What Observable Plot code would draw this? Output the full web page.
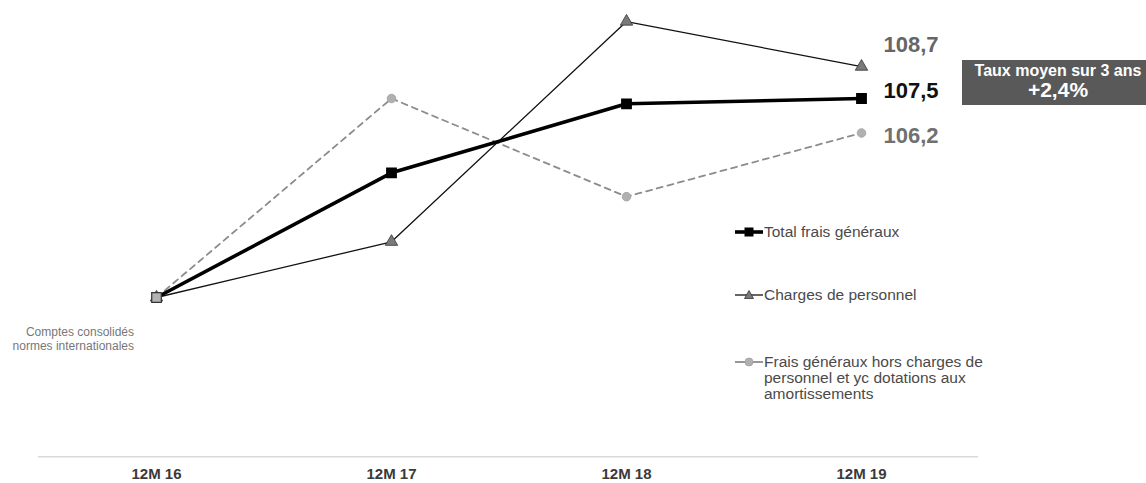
<!DOCTYPE html>
<html>
<head>
<meta charset="utf-8">
<script src="https://cdn.jsdelivr.net/npm/d3@7"></script>
<script src="https://cdn.jsdelivr.net/npm/@observablehq/plot@0.6"></script>
<style>
  html, body { margin: 0; padding: 0; background: #fff; }
  body { font-family: "Liberation Sans", Arial, sans-serif; }
  #wrap { position: relative; width: 1146px; height: 483px; overflow: hidden; }
  #chart { position: absolute; left: 0; top: 0; }
  .legend { position: absolute; left: 735px; font-size: 15.5px; color: #4a4a4a; line-height: 16px; }
  .legend .item { position: absolute; left: 0; white-space: nowrap; }
  .legend svg { position: absolute; left: 0; }
  .legend .txt { position: absolute; left: 29px; }
  #note { position: absolute; right: calc(1146px - 134px); top: 325px; font-size: 12px; color: #777; text-align: right; line-height: 14px; white-space: nowrap; }
  #box { position: absolute; left: 962px; top: 60px; width: 192px; height: 45px; background: #595959; color: #fff; font-weight: bold; text-align: center; }
  #box .l1 { font-size: 16px; line-height: 17px; margin-top: 2px; white-space: nowrap; }
  #box .l2 { font-size: 21px; line-height: 22px; }
</style>
</head>
<body>
<div id="wrap">
  <div id="chart"></div>
  <div id="note">Comptes consolidés<br>normes internationales</div>
  <div id="box"><div class="l1">Taux moyen sur 3 ans</div><div class="l2">+2,4%</div></div>
  <div class="legend" id="legend"></div>
</div>
<script>
const periods = ["12M 16", "12M 17", "12M 18", "12M 19"];
const totalFrais = [100, 104.7, 107.3, 107.5];
const chargesPersonnel = [100, 102.1, 110.4, 108.7];
const fraisHorsPersonnel = [100, 107.5, 103.8, 106.2];
const seriesNames = [
  "Total frais généraux",
  "Charges de personnel",
  "Frais généraux hors charges de personnel et yc dotations aux amortissements"
];
const endLabels = ["107,5", "108,7", "106,2"];
const averageRate = "+2,4%";

const toRows = (vals, name) => vals.map((v, i) => ({period: periods[i], value: v, series: name, i}));
const total = toRows(totalFrais, seriesNames[0]);
const perso = toRows(chargesPersonnel, seriesNames[1]);
const frais = toRows(fraisHorsPersonnel, seriesNames[2]);

const last = a => [a[a.length - 1]];

const plot = Plot.plot({
  width: 1146,
  height: 483,
  marginLeft: 38,
  marginRight: 168,
  marginTop: 0,
  marginBottom: 27,
  style: {fontFamily: "'Liberation Sans', Arial, sans-serif", background: "#fff"},
  x: {type: "point", domain: periods, range: [155, 861], padding: 0, label: null},
  y: {domain: [100, 107.5], range: [297, 98], axis: null},
  marks: [
    Plot.ruleY([94], {stroke: "#d9d9d9", strokeWidth: 1.5}),
    Plot.axisX({tickSize: 0, tickPadding: 12, fontSize: 15, fontWeight: "bold", fill: "#3a3a3a", label: null}),
    Plot.line(frais, {x: "period", y: "value", stroke: "#8c8c8c", strokeWidth: 1.8, strokeDasharray: "6,5"}),
    Plot.line(perso, {x: "period", y: "value", stroke: "#111", strokeWidth: 1.3}),
    Plot.line(total, {x: "period", y: "value", stroke: "#000", strokeWidth: 3.6}),
    Plot.dot(frais, {x: "period", y: "value", symbol: "circle", r: 4.3, fill: "#b0b0b0", stroke: "#a0a0a0", strokeWidth: 0.8}),
    Plot.dot(perso, {x: "period", y: "value", symbol: "triangle", r: 4.6, fill: "#7a7a7a", stroke: "#333", strokeWidth: 0.8}),
    Plot.dot(total, {x: "period", y: "value", symbol: "square", r: 5.4, fill: d => d.i === 0 ? "#b3b3b3" : "#000", stroke: d => d.i === 0 ? "#333" : "#000", strokeWidth: 1.2}),
    Plot.text(last(perso), {x: "period", y: "value", text: () => endLabels[1], dx: 22, dy: -22, textAnchor: "start", fontSize: 22, fontWeight: "bold", fill: "#666"}),
    Plot.text(last(total), {x: "period", y: "value", text: () => endLabels[0], dx: 22, dy: -8, textAnchor: "start", fontSize: 22, fontWeight: "bold", fill: "#111"}),
    Plot.text(last(frais), {x: "period", y: "value", text: () => endLabels[2], dx: 22, dy: 3, textAnchor: "start", fontSize: 22, fontWeight: "bold", fill: "#707070"})
  ]
});
document.getElementById("chart").appendChild(plot);
document.querySelector("#box .l2").textContent = averageRate;

// legend
const legend = document.getElementById("legend");
const items = [
  {top: 224, lines: [seriesNames[0]], svg: `<line x1="0" y1="8" x2="28" y2="8" stroke="#000" stroke-width="3.6"/><rect x="9.5" y="3.5" width="9" height="9" fill="#000"/>`},
  {top: 287, lines: [seriesNames[1]], svg: `<line x1="0" y1="8" x2="28" y2="8" stroke="#111" stroke-width="1.3"/><path d="M14,3.5 L18.5,11.5 L9.5,11.5 Z" fill="#7a7a7a" stroke="#333" stroke-width="0.8"/>`},
  {top: 354, lines: ["Frais généraux hors charges de", "personnel et yc dotations aux", "amortissements"], svg: `<line x1="0" y1="8" x2="28" y2="8" stroke="#8c8c8c" stroke-width="1.8"/><circle cx="14" cy="8" r="4" fill="#b0b0b0" stroke="#a0a0a0" stroke-width="0.8"/>`}
];
items.forEach(it => {
  const d = document.createElement("div");
  d.className = "item";
  d.style.top = it.top + "px";
  d.innerHTML = `<svg width="29" height="16" style="top:0">${it.svg}</svg><div class="txt">${it.lines.join("<br>")}</div>`;
  legend.appendChild(d);
});
</script>
</body>
</html>
